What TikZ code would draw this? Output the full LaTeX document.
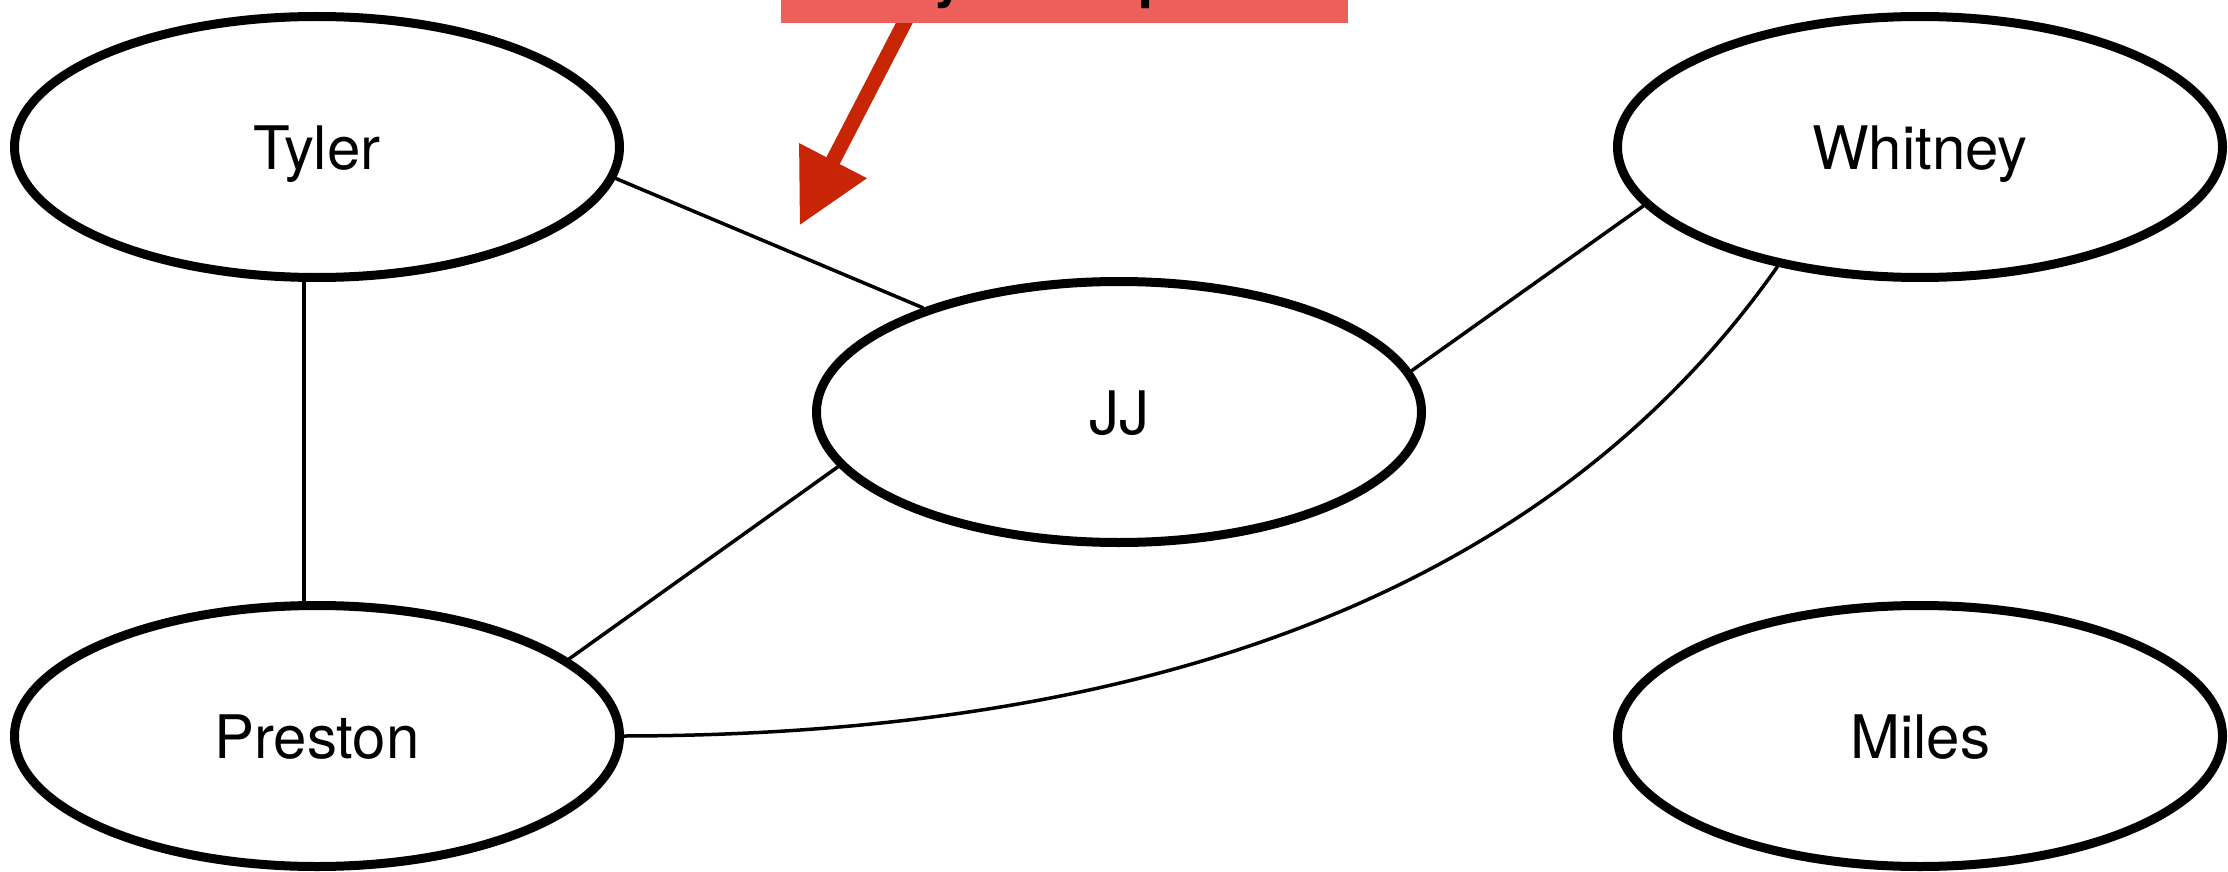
\documentclass[tikz,border=0pt]{standalone}
\usepackage{fontspec}
\newfontfamily\heros{TeX Gyre Heros}
\usetikzlibrary{shapes.geometric,arrows.meta}
\definecolor{notered}{RGB}{237,95,91}
\definecolor{arrowred}{RGB}{200,37,6}
\begin{document}
\begin{tikzpicture}[x=1pt,y=-1pt,
  person/.style={ellipse,draw=black,line width=9pt,fill=white,
    minimum width=605pt,minimum height=261pt,inner sep=0pt,
    font=\heros\fontsize{60}{72}\selectfont,text height=45pt,text depth=0pt},
  link/.style={line width=3.5pt,black},
  frag/.style={font=\heros\bfseries\fontsize{56}{66}\selectfont,inner sep=0pt,anchor=base west},
]
\useasboundingbox (0,0) rectangle (2228,872);
\clip (0,0) rectangle (2228,872);

% note box and its arrow
\coordinate (arrowstart) at (911,10);
\coordinate (arrowtip) at (799.5,225.5);
\draw[arrowred,line width=15pt,-{Triangle[length=73pt,width=72pt]}] (arrowstart) -- (arrowtip);
\node[fill=notered,inner sep=0pt,minimum width=567pt,minimum height=23pt,anchor=north west] (note) at (781,0) {};
\node[frag] (fragY) at (933,-3) {y};
\node[frag] (fragP) at (1138,-3) {p};

% people
\node[person] (Tyler)   at (317,147)  {Tyler};
\node[person] (JJ)      at (1119,412) {JJ};
\node[person] (Whitney) at (1920,147) {Whitney};
\node[person] (Preston) at (317,736)  {Preston};
\node[person] (Miles)   at (1920,736) {Miles};

% relations
\draw[link] (Tyler.-6) -- (JJ.152);
\draw[link] ([xshift=-13pt]Tyler.south) -- ([xshift=-13pt]Preston.north);
\draw[link] (JJ.8.6) -- (Whitney.192);
\draw[link] (JJ.191) -- (Preston.17);
\draw[link] (Whitney.220) .. controls (1558,579) and (1174,735) .. (Preston.east);
\end{tikzpicture}
\end{document}
